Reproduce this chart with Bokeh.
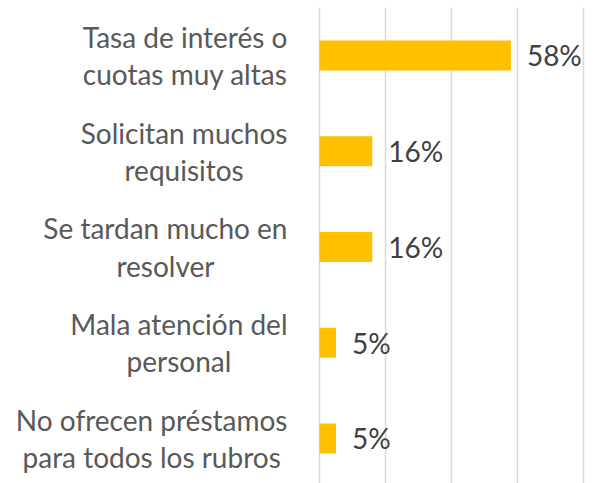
from bokeh.plotting import figure
from bokeh.models import ColumnDataSource, FixedTicker, Range1d
from bokeh.core.properties import value
from bokeh.embed import file_html
from bokeh.resources import INLINE

categories = [
    "Tasa de interés o\ncuotas muy altas",
    "Solicitan muchos\nrequisitos",
    "Se tardan mucho en\nresolver",
    "Mala atención del\npersonal",
    "No ofrecen préstamos\npara todos los rubros",
]
values = [58, 16, 16, 5, 5]
value_labels = ["58%", "16%", "16%", "5%", "5%"]
grid_ticks = [0, 20, 40, 60, 80]

n = len(categories)
ypos = [n - 1 - i for i in range(n)]

src = ColumnDataSource(dict(y=ypos, v=values, lab=value_labels, cat=categories,
                            lx=[-9.7] * n))

p = figure(width=605, height=483, output_backend="svg", toolbar_location=None,
           x_range=Range1d(-96.67, 86.67), y_range=Range1d(-0.47, 4.501),
           min_border=0, min_border_left=0, min_border_right=0,
           min_border_top=7, min_border_bottom=0)
p.outline_line_color = None
p.xaxis.visible = False
p.yaxis.visible = False
p.ygrid.visible = False
p.xgrid.ticker = FixedTicker(ticks=grid_ticks)
p.xgrid.grid_line_color = "#D9D9D9"
p.xgrid.grid_line_width = 1.5
p.background_fill_color = "white"
p.border_fill_color = "white"

p.hbar(y="y", left=0, right="v", height=0.313, source=src,
       fill_color="#FFC000", line_color=None)

FS = "28px"
p.text(x="v", y="y", text="lab", source=src, x_offset=16,
       text_align="left", text_baseline="middle",
       text_font=value("Lato"), text_font_size=FS, text_color="#404040")

p.text(x="lx", y="y", text="cat", source=src, anchor="center_right",
       text_align="center", text_baseline="middle", text_line_height=1.09,
       text_font=value("Lato"), text_font_size=FS, text_color="#595959")

open("out.html", "w").write(file_html(p, INLINE))
